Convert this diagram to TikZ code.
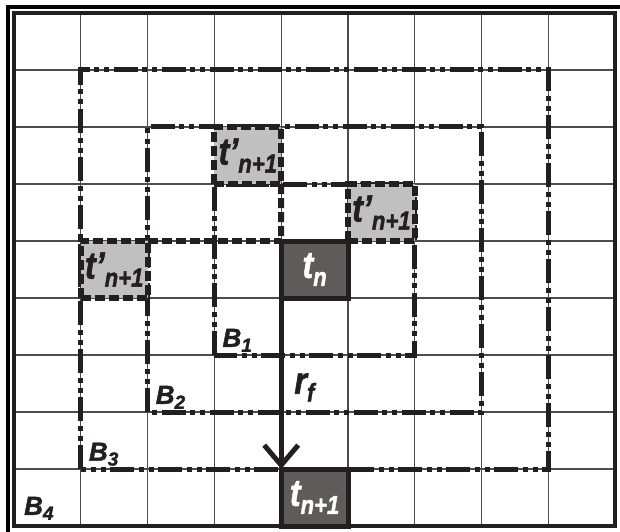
\documentclass[tikz,border=0pt]{standalone}
\usepackage{fontspec}
\setmainfont{Liberation Sans}[BoldItalicFeatures={FakeBold=1.6}]
\usetikzlibrary{arrows.meta}
\definecolor{srchInk}{HTML}{231F20}
\definecolor{srchDark}{HTML}{5F5B5B}
\definecolor{srchLight}{HTML}{C0C0C0}
\newcommand{\srchBig}[2]{\scalebox{0.85}[1]{{\fontsize{38}{38}\selectfont #1}\raisebox{-8pt}{\fontsize{26}{26}\selectfont #2}}}
\newcommand{\srchSmall}[2]{{\fontsize{26}{26}\selectfont #1}\raisebox{-5pt}{\fontsize{19}{19}\selectfont #2}}
\begin{document}
\begin{tikzpicture}
% search rings around the current cell
\def\cellw{66.8pt}
\def\cellh{57pt}
\providecommand{\srchGridLineColor}{black!70}
\providecommand{\srchGridLineWidth}{1.2pt}
\providecommand{\srchRingWidth}{5pt}
\useasboundingbox (-14pt,-5pt) rectangle (606pt,526pt);
\clip (-14pt,-5pt) rectangle (606pt,526pt);
\begin{scope}[x=\cellw, y=\cellh, font=\bfseries\itshape,
  cur/.style={draw=srchInk, line width=5pt, fill=srchDark, text=white,
    minimum width=\cellw, minimum height=\cellh, inner sep=0pt, outer sep=0pt},
  cand/.style={draw=srchInk, line width=6pt, dash pattern=on 10pt off 4pt,
    fill=srchLight, text=srchInk,
    minimum width=\cellw, minimum height=\cellh, inner sep=0pt, outer sep=0pt},
  ring/.style={draw=srchInk, line width=\srchRingWidth,
    dash pattern=on 24pt off 4.5pt on 5pt off 5pt on 5pt off 4.5pt},
  ringlabel/.style={anchor=south west, inner sep=0pt, xshift=8pt, yshift=3pt, text=srchInk},
  link/.style={draw=srchInk, line width=6pt, dash pattern=on 10pt off 4pt}]
  % Vertical lines
  \begin{scope}[draw=\srchGridLineColor, line width=\srchGridLineWidth]
    \draw (1,0) -- (1,9);
    \draw (2,0) -- (2,9);
    \draw (3,0) -- (3,9);
    \draw (4,0) -- (4,9);
    \draw (5,0) -- (5,9);
    \draw (6,0) -- (6,9);
    \draw (7,0) -- (7,9);
    \draw (8,0) -- (8,9);
  \end{scope}
  % Horizontal lines
  \begin{scope}[draw=\srchGridLineColor, line width=\srchGridLineWidth]
    \draw (0,1) -- (9,1);
    \draw (0,2) -- (9,2);
    \draw (0,3) -- (9,3);
    \draw (0,4) -- (9,4);
    \draw (0,5) -- (9,5);
    \draw (0,6) -- (9,6);
    \draw (0,7) -- (9,7);
    \draw (0,8) -- (9,8);
  \end{scope}
  % Rings
  \draw[ring] (3,3) rectangle (6,6);
  \draw[ring] (2,2) rectangle (7,7);
  \draw[ring] (1,1) rectangle (8,8);
  \node[ringlabel] (b1) at (3,3) {\srchSmall{B}{1}};
  \node[ringlabel] (b2) at (2,2) {\srchSmall{B}{2}};
  \node[ringlabel] (b3) at (1,1) {\srchSmall{B}{3}};
  \node[ringlabel, xshift=2pt, yshift=3pt] (b4) at (0,0) {\srchSmall{B}{4}};
  % Cells
  \node[cur] (tn) at (4.5,4.5) {\srchBig{t}{n}};
  \node[cur] (tnext) at (4.5,0.5) {\srchBig{t}{n+1}};
  \node[cand] (tpa) at (3.5,6.5) {\srchBig{t’}{n+1}};
  \node[cand] (tpb) at (5.5,5.5) {\srchBig{t’}{n+1}};
  \node[cand] (tpc) at (1.5,4.5) {\srchBig{t’}{n+1}};
  % Links and step
  \draw[link] (tpc.north east) -- (tn.north west);
  \draw[link] (tpa.south east) -- (tn.north west);
  \draw[srchInk, line width=5pt, -{Straight Barb[length=20pt, width=34pt]}]
    (tn.south west) -- (tnext.north west) coordinate[pos=0.5] (rfpos);
  \node[anchor=west, inner sep=0pt, xshift=13pt, yshift=-4pt, text=srchInk] (rf) at (rfpos) {\srchBig{r}{f}};
  % Frame
  \draw[srchInk, line width=4.5pt] (0,0) rectangle (9,9);
\end{scope}
\draw[black, line width=4pt] (-6pt,-30pt) rectangle (640pt,518.5pt);
\end{tikzpicture}
\end{document}
